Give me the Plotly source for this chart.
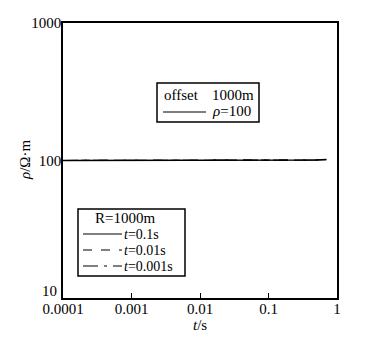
import plotly.graph_objects as go

t_vals = [1e-4, 1e-3, 1e-2, 1e-1, 0.3, 0.5, 0.7]
rho_t01 = [100, 100, 100, 100, 100.2, 100.8, 101.5]
rho_t001 = [100, 100, 100, 100, 100.2, 100.8, 101.5]
rho_t0001 = [100, 100, 100, 100, 100.2, 100.8, 101.5]
x_ticks = [1e-4, 1e-3, 1e-2, 1e-1, 1]
x_tick_text = ["0.0001", "0.001", "0.01", "0.1", "1"]
y_ticks = [10, 100, 1000]
y_tick_text = ["", "100", "1000"]
y_bottom_label = "10"

FONT = "Liberation Serif"
FS = 15
L, R, T, B = 63, 337, 23, 298
W, H = 388, 343

def px(x):
    return (x - L) / (R - L)

def py(y):
    return (B - y) / (B - T)

fig = go.Figure()
fig.add_trace(go.Scatter(x=t_vals, y=rho_t0001, mode="lines", hoverinfo="skip",
                         line=dict(color="black", width=1.2, dash="longdashdot")))
fig.add_trace(go.Scatter(x=t_vals, y=rho_t001, mode="lines", hoverinfo="skip",
                         line=dict(color="black", width=1.2, dash="dash")))
fig.add_trace(go.Scatter(x=t_vals, y=rho_t01, mode="lines", hoverinfo="skip",
                         line=dict(color="black", width=1.5)))

def txt(s, x, y, anchor="left", angle=0, size=FS):
    return dict(text=s, xref="paper", yref="paper", x=px(x), y=py(y),
                xanchor=anchor, yanchor="middle", textangle=angle,
                showarrow=False, font=dict(family=FONT, size=size, color="black"))

shapes = []
annotations = []
# legend box 1
shapes.append(dict(type="rect", xref="paper", yref="paper",
                   x0=px(157), x1=px(259), y0=py(122), y1=py(83),
                   line=dict(color="black", width=1.5), fillcolor="white"))
shapes.append(dict(type="line", xref="paper", yref="paper",
                   x0=px(163), x1=px(206), y0=py(112), y1=py(112),
                   line=dict(color="black", width=1.2)))
annotations.append(txt("offset", 162, 95))
annotations.append(txt("1000m", 256, 95, anchor="right"))
annotations.append(txt("<i>ρ</i>=100", 210, 111))
# legend box 2
shapes.append(dict(type="rect", xref="paper", yref="paper",
                   x0=px(78), x1=px(185), y0=py(276), y1=py(209),
                   line=dict(color="black", width=1.5), fillcolor="white"))
annotations.append(txt("R=1000m", 125, 218, anchor="center"))
rows = [(234, "solid", "<i>t</i>=0.1s"), (250, "dash", "<i>t</i>=0.01s"),
        (266, "longdashdot", "<i>t</i>=0.001s")]
for yy, dash, label in rows:
    shapes.append(dict(type="line", xref="paper", yref="paper",
                       x0=px(83), x1=px(122), y0=py(yy), y1=py(yy),
                       line=dict(color="black", width=1.2, dash=dash)))
    annotations.append(txt(label, 122, yy, size=14))

# bottom y tick label raised to clear the x labels, as in the reference
annotations.append(txt(y_bottom_label, 59, 291, anchor="right"))
# axis titles
annotations.append(txt("<i>t</i>/s", 200, 325, anchor="center"))
annotations.append(txt("<i>ρ</i>/Ω·m", 25, 160, anchor="center", angle=-90))

fig.update_layout(
    width=W, height=H,
    margin=dict(l=L, r=W - R, t=T, b=H - B),
    paper_bgcolor="white", plot_bgcolor="white",
    showlegend=False, hovermode=False,
    font=dict(family=FONT, size=FS, color="black"),
    shapes=shapes, annotations=annotations,
)
fig.update_xaxes(type="log", range=[-4, 0], tickvals=x_ticks, ticktext=x_tick_text,
                 showgrid=False, zeroline=False, showline=True, linecolor="black",
                 linewidth=1.5, mirror=True, ticks="inside", ticklen=5,
                 tickcolor="black", ticklabelstandoff=-4,
                 tickfont=dict(family=FONT, size=FS, color="black"))
fig.update_yaxes(type="log", range=[1, 3], tickvals=y_ticks, ticktext=y_tick_text,
                 showgrid=False, zeroline=False, showline=True, linecolor="black",
                 linewidth=1.5, mirror=True, ticks="inside", ticklen=5,
                 tickcolor="black", ticklabelstandoff=-3,
                 tickfont=dict(family=FONT, size=FS, color="black"))

fig.write_html("out.html", config={"displayModeBar": False},
               post_script="document.body.style.margin='0px';")
